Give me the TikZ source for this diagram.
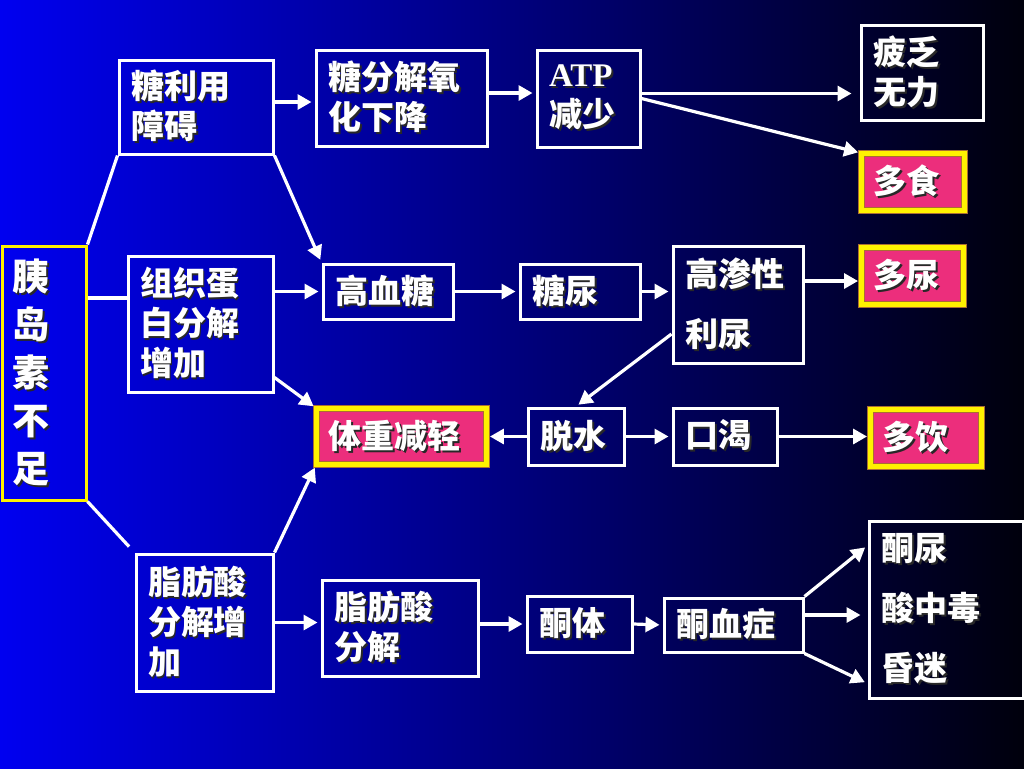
\documentclass[tikz,border=0pt]{standalone}
\usepackage{fontspec}
\usetikzlibrary{arrows.meta}
\newfontfamily\cjk{Noto Sans CJK SC}
\newfontfamily\atpfont{Liberation Serif}
\definecolor{bgleft}{RGB}{0,0,240}
\definecolor{bgmid}{RGB}{0,0,178}
\definecolor{bgright}{RGB}{0,0,12}
\definecolor{hotpink}{RGB}{236,46,124}
\definecolor{framegold}{RGB}{170,110,50}
\definecolor{shadowc}{RGB}{40,40,40}
\newcommand\shtext[1]{\leavevmode\rlap{\kern1pt\raisebox{-1pt}{\textcolor{shadowc}{#1}}}#1}

\begin{document}
\begin{tikzpicture}[x=.5pt,y=-.5pt,
  box/.style={draw=white,line width=1.5pt,text=white,align=left,inner xsep=6pt,inner ysep=0pt,font=\cjk\bfseries\fontsize{16.5}{20}\selectfont},
  hibox/.style={box,fill=hotpink,draw=framegold,double=yellow,double distance=2.8pt,line width=.45pt},
  widegap/.style={font=\cjk\bfseries\fontsize{16.5}{30}\selectfont},
  insbox/.style={box,draw=yellow,inner xsep=5pt,font=\cjk\bfseries\fontsize{18.5}{24}\selectfont},
  ln/.style={white,line width=1.6pt},
  arr/.style={ln,-{Triangle[length=7pt,width=7.5pt]},shorten >=1.5pt}]
\path[use as bounding box] (0,0) rectangle (1024,768);
\shade[left color=bgleft,middle color=bgmid,right color=bgright] (0,0) rectangle (1024,768);
\node[insbox,text width=32pt,minimum height=127pt] (ins) at (44,373) {\shtext{胰}\\\shtext{岛}\\\shtext{素}\\\shtext{不}\\\shtext{足}};
\node[box,text width=65pt,minimum height=47pt] (use) at (196,107) {\shtext{糖利用}\\\shtext{障碍}};
\node[box,text width=60.5pt,minimum height=68pt] (prot) at (200.5,324) {\shtext{组织蛋}\\\shtext{白分解}\\\shtext{增加}};
\node[box,text width=56.5pt,minimum height=68.5pt] (fat) at (204.5,622.5) {\shtext{脂肪酸}\\\shtext{分解增}\\\shtext{加}};
\node[box,text width=73.5pt,minimum height=48pt] (oxid) at (401.5,98) {\shtext{糖分解氧}\\\shtext{化下降}};
\node[box,text width=39.5pt,minimum height=48.5pt] (atp) at (588.5,98.5) {\shtext{{\atpfont\bfseries ATP}}\\\shtext{减少}};
\node[box,text width=49pt,minimum height=47.5pt] (tired) at (922,72.5) {\shtext{疲乏}\\\shtext{无力}};
\node[hibox,text width=39.5pt,minimum height=28.5pt] (eat) at (913,182) {\shtext{多食}};
\node[hibox,text width=39pt,minimum height=28.5pt] (urine) at (912.5,276) {\shtext{多尿}};
\node[box,text width=53pt,minimum height=27.5pt] (glu) at (388,291.5) {\shtext{高血糖}};
\node[box,text width=48pt,minimum height=27.5pt] (gly) at (580,291.5) {\shtext{糖尿}};
\node[box,widegap,text width=53pt,minimum height=58.5pt] (osm) at (738,304.5) {\shtext{高渗性}\\\shtext{利尿}};
\node[hibox,text width=73pt,minimum height=28pt] (weight) at (401.5,436.5) {\shtext{体重减轻}};
\node[box,text width=36pt,minimum height=28.5pt] (dehyd) at (576,436.5) {\shtext{脱水}};
\node[box,text width=40pt,minimum height=28.5pt] (thirst) at (725,436.5) {\shtext{口渴}};
\node[hibox,text width=43.5pt,minimum height=28.5pt] (drink) at (926,438) {\shtext{多饮}};
\node[box,text width=66pt,minimum height=48pt] (fa2) at (400,628) {\shtext{脂肪酸}\\\shtext{分解}};
\node[box,text width=40.5pt,minimum height=28pt] (ket) at (579.5,624) {\shtext{酮体}};
\node[box,text width=57.5pt,minimum height=27pt] (ketemia) at (733.5,625) {\shtext{酮血症}};
\node[box,widegap,text width=65pt,minimum height=88.5pt] (coma) at (946,609.5) {\shtext{酮尿}\\\shtext{酸中毒}\\\shtext{昏迷}};
\coordinate (pw) at ([yshift=13pt]prot.west);
\coordinate (p1) at ([yshift=2.5pt]use.east);
\coordinate (p2) at ([yshift=2.5pt]oxid.east);
\coordinate (p3) at ([yshift=2.5pt]atp.east);
\coordinate (p4) at ([yshift=11.75pt]osm.east);
\coordinate (p5) at ([yshift=5pt]ketemia.east);
\draw[ln] (ins.north east) -- (use.south west);
\draw[ln] (ins.east |- pw) -- (pw);
\draw[ln,shorten >=4pt] (ins.south east) -- (fat.north west);
\draw[arr] (p1) -- (p1 -| oxid.west);
\draw[arr] (use.south east) -- (glu.north west);
\draw[arr] (prot.east |- glu.west) -- (glu.west);
\draw[arr] ([yshift=8pt]prot.south east) -- (weight.north west);
\draw[arr] (fat.north east) -- (weight.south west);
\draw[arr] (fat.east) -- (fat.east -| fa2.west);
\draw[arr] (p2) -- (p2 -| atp.west);
\draw[arr,shorten >=4pt] (p3) -- (p3 -| tired.west);
\draw[arr] (atp.east) -- (eat.north west);
\draw[arr] (glu.east) -- (gly.west);
\draw[arr] (gly.east) -- (gly.east -| osm.west);
\draw[arr] (p4) -- (p4 -| urine.west);
\draw[arr] ([yshift=-14.75pt]osm.west) -- (dehyd.north);
\draw[arr] (dehyd.west) -- (weight.east);
\draw[arr] (dehyd.east) -- (thirst.west);
\draw[arr] (thirst.east) -- (thirst.east -| drink.west);
\draw[arr] (fa2.east |- ket.west) -- (ket.west);
\draw[arr] (ket.east) -- (ketemia.west);
\draw[arr] (ketemia.north east) -- ([yshift=32pt]coma.west);
\draw[arr,shorten >=3.5pt] (p5) -- (p5 -| coma.west);
\draw[arr] (ketemia.south east) -- ([yshift=-37pt]coma.west);
\end{tikzpicture}
\end{document}
